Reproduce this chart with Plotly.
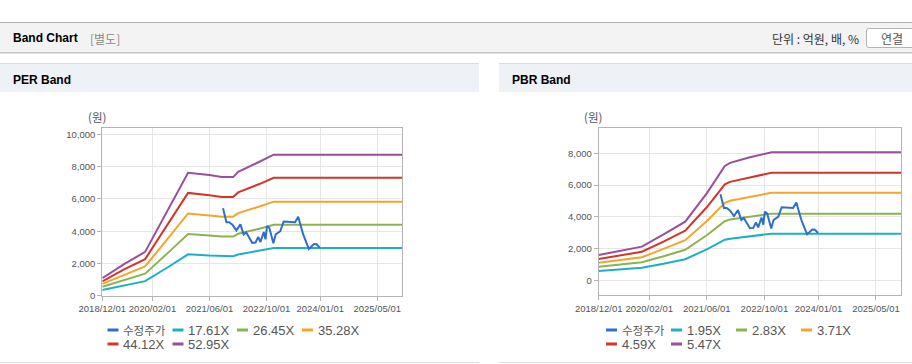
import plotly.graph_objects as go

# ---------------- data ----------------
band_dates_per = ["2018-12-01", "2019-06-01", "2019-12-01", "2020-06-01", "2020-12-01", "2021-06-01",
                  "2021-09-15", "2021-12-20", "2022-02-01", "2022-08-01", "2022-12-01", "2025-12-01"]
per_17_61 = [365, 650, 905, 1720, 2570, 2490, 2450, 2450, 2560, 2780, 2960, 2960]
per_26_45 = [560, 975, 1370, 2580, 3830, 3740, 3670, 3670, 3840, 4150, 4400, 4400]
per_35_28 = [735, 1300, 1820, 3445, 5100, 4980, 4900, 4900, 5120, 5530, 5830, 5830]
per_44_12 = [890, 1625, 2270, 4310, 6370, 6230, 6120, 6120, 6400, 6920, 7310, 7310]
per_52_95 = [1090, 1950, 2720, 5170, 7620, 7480, 7350, 7350, 7680, 8300, 8740, 8740]

band_dates_pbr = ["2018-12-01", "2019-06-01", "2019-12-01", "2020-06-01", "2020-12-01", "2021-06-01",
                  "2021-11-01", "2021-12-15", "2022-06-01", "2022-12-01", "2025-12-01"]
pbr_1_95 = [590, 680, 790, 1040, 1330, 1950, 2560, 2620, 2750, 2935, 2935]
pbr_2_83 = [850, 980, 1140, 1510, 1920, 2840, 3720, 3830, 4010, 4200, 4200]
pbr_3_71 = [1100, 1270, 1450, 1980, 2530, 3720, 4880, 5010, 5260, 5520, 5520]
pbr_4_59 = [1340, 1560, 1800, 2440, 3120, 4600, 6040, 6200, 6500, 6780, 6780]
pbr_5_47 = [1590, 1850, 2120, 2900, 3690, 5480, 7200, 7400, 7750, 8060, 8060]

price_dates = ["2021-09-25", "2021-10-12", "2021-10-24", "2021-11-16", "2021-12-14", "2022-01-17",
               "2022-02-20", "2022-03-20", "2022-04-10", "2022-05-04", "2022-06-01", "2022-06-29",
               "2022-07-22", "2022-08-10", "2022-09-07", "2022-09-22", "2022-10-05", "2022-10-25",
               "2022-11-12", "2022-11-28", "2022-12-18", "2023-01-06", "2023-01-26", "2023-02-24",
               "2023-04-05", "2023-06-01", "2023-06-28", "2023-07-14", "2023-08-08", "2023-09-06",
               "2023-09-27", "2023-10-18", "2023-11-10", "2023-12-02", "2023-12-28"]
price = [5420, 4980, 4560, 4560, 4400, 4050, 4420, 3800, 3930, 3620, 3280, 3300,
         3640, 3330, 3950, 3500, 4320, 4200, 3700, 3260, 3800, 3880, 4000, 4600,
         4600, 4560, 4900, 4450, 3830, 3280, 2900, 3050, 3200, 3190, 2980]

tick_vals = ["2018-12-01", "2020-02-01", "2021-06-01", "2022-10-01", "2024-01-01", "2025-05-01"]
tick_text = ["2018/12/01", "2020/02/01", "2021/06/01", "2022/10/01", "2024/01/01", "2025/05/01"]

per_names = ["수정주가", "17.61X", "26.45X", "35.28X", "44.12X", "52.95X"]
pbr_names = ["수정주가", "1.95X", "2.83X", "3.71X", "4.59X", "5.47X"]
colors = ["#2f6fcc", "#1cb0c6", "#8db350", "#f3a52b", "#d2352b", "#9a4e9c"]

# ---------------- figure ----------------
W, H = 912, 364
def fx(x):
    return x / W
def fy(y):
    return 1 - y / H

FONT = "Liberation Sans, Noto Sans CJK KR, sans-serif"
TICKFONT = "Liberation Sans, sans-serif"
KFONT = "Noto Sans CJK KR, Liberation Sans, sans-serif"

fig = go.Figure()

per_bands = [per_17_61, per_26_45, per_35_28, per_44_12, per_52_95]
pbr_bands = [pbr_1_95, pbr_2_83, pbr_3_71, pbr_4_59, pbr_5_47]

for i, vals in enumerate(per_bands):
    fig.add_trace(go.Scatter(x=band_dates_per, y=vals, mode="lines", name=per_names[i + 1],
                             line=dict(color=colors[i + 1], width=2), xaxis="x", yaxis="y",
                             showlegend=False))
fig.add_trace(go.Scatter(x=price_dates, y=price, mode="lines", name=per_names[0],
                         line=dict(color=colors[0], width=2), xaxis="x", yaxis="y", showlegend=False))

for i, vals in enumerate(pbr_bands):
    fig.add_trace(go.Scatter(x=band_dates_pbr, y=vals, mode="lines", name=pbr_names[i + 1],
                             line=dict(color=colors[i + 1], width=2), xaxis="x2", yaxis="y2",
                             showlegend=False))
fig.add_trace(go.Scatter(x=price_dates, y=price, mode="lines", name=pbr_names[0],
                         line=dict(color=colors[0], width=2), xaxis="x2", yaxis="y2", showlegend=False))

axis_common = dict(showline=True, mirror=True, linecolor="#b4b4b4", linewidth=1,
                   showgrid=True, gridcolor="#e6e6e6", gridwidth=1, zeroline=False,
                   ticks="outside", ticklen=4, tickcolor="#b4b4b4", automargin=False,
                   tickfont=dict(family=TICKFONT, size=9.5, color="#555555"))

x_range = ["2018-12-01", "2025-12-01"]

shapes = []
annotations = []

def rect(x0, y0, x1, y1, fill, line_color=None, layer="below"):
    shapes.append(dict(type="rect", xref="paper", yref="paper", x0=fx(x0), x1=fx(x1),
                       y0=fy(y1), y1=fy(y0), fillcolor=fill,
                       line=dict(width=0 if line_color is None else 1,
                                 color=line_color or "rgba(0,0,0,0)"), layer=layer))

def hline(x0, x1, y, color, width=1):
    shapes.append(dict(type="line", xref="paper", yref="paper", x0=fx(x0), x1=fx(x1),
                       y0=fy(y), y1=fy(y), line=dict(color=color, width=width), layer="below"))

def text(x, y, s, size=12, color="#000", bold=False, family=FONT, anchor="left"):
    annotations.append(dict(xref="paper", yref="paper", x=fx(x), y=fy(y), text=("<b>%s</b>" % s) if bold else s,
                            showarrow=False, xanchor=anchor, yanchor="middle",
                            font=dict(family=family, size=size, color=color)))

# top header bar
hline(0, W, 22.5, "#b0b0b0")
rect(0, 23, W, 52, "#f3f3f3")
hline(0, W, 52.5, "#c4c4c4")
hline(0, W, 53.5, "#e4e4e4")
text(11, 38.5, "Band Chart", size=12, bold=True)
text(88, 38.5, "[별도]", size=12, color="#8a8a8a", family=KFONT)
text(770, 38.5, "단위 : 억원, 배, %", size=12, color="#333333", family=KFONT)
shapes.append(dict(type="path", xref="paper", yref="paper",
                   path="M %f %f L %f %f Q %f %f %f %f L %f %f Q %f %f %f %f L %f %f" % (
                       fx(918), fy(28.5), fx(869), fy(28.5), fx(866.5), fy(28.5), fx(866.5), fy(31),
                       fx(866.5), fy(45), fx(866.5), fy(47.5), fx(869), fy(47.5), fx(918), fy(47.5)),
                   fillcolor="#ffffff", line=dict(color="#b4b4b4", width=1), layer="below"))
text(891.5, 38.5, "연결", size=12, color="#555555", family=KFONT, anchor="center")

# panels
for (x0, x1, title) in [(0, 479, "PER Band"), (499, W, "PBR Band")]:
    hline(x0, x1, 63.5, "#dcdcdc")
    rect(x0, 64, x1, 92, "#eef1f6")
    hline(x0, x1, 362.5, "#dcdcdc")
    text(x0 + 11, 79.5, title, size=12, bold=True)

text(97, 117, "(원)", size=11.5, color="#555555", family=KFONT, anchor="center")
text(593, 117, "(원)", size=11.5, color="#555555", family=KFONT, anchor="center")

# legends (drawn as keys)
def legend(names, x_cols, rows):
    k = 0
    for r, ypix in enumerate(rows):
        for c, xpix in enumerate(x_cols):
            if k >= len(names):
                break
            if r == 1 and c >= 2:
                break
            shapes.append(dict(type="line", xref="paper", yref="paper", x0=fx(xpix), x1=fx(xpix + 11),
                               y0=fy(ypix), y1=fy(ypix), line=dict(color=colors[k], width=3)))
            if k == 0:
                text(xpix + 13.5, ypix, names[k], size=11.5, color="#555555", family=KFONT)
            else:
                text(xpix + 13.5, ypix, names[k], size=13, color="#555555", family=FONT)
            k += 1

legend(per_names, [107.5, 172.5, 237, 302], [330, 344])
legend(pbr_names, [606, 671, 736, 801], [330, 344])

fig.update_layout(
    width=W, height=H, margin=dict(l=0, r=0, t=0, b=0, autoexpand=False),
    paper_bgcolor="#ffffff", plot_bgcolor="#ffffff",
    showlegend=False,
    xaxis=dict(domain=[fx(102.3), fx(402.3)], range=x_range, type="date", anchor="y",
               tickvals=tick_vals, ticktext=tick_text, tickangle=0, **axis_common),
    yaxis=dict(domain=[fy(295.8), fy(128.3)], range=[0, 10372], anchor="x",
               dtick=2000, tickformat=",d", **axis_common),
    xaxis2=dict(domain=[fx(598.7), fx(901.3)], range=x_range, type="date", anchor="y2",
                tickvals=tick_vals, ticktext=tick_text, tickangle=0, **axis_common),
    yaxis2=dict(domain=[fy(295.3), fy(128.3)], range=[-945, 9575], anchor="x2",
                dtick=2000, tickformat=",d", **axis_common),
    shapes=shapes, annotations=annotations,
)

fig.write_html("out.html", config={"displayModeBar": False},
               post_script="document.body.style.margin='0';document.body.style.padding='0';")
